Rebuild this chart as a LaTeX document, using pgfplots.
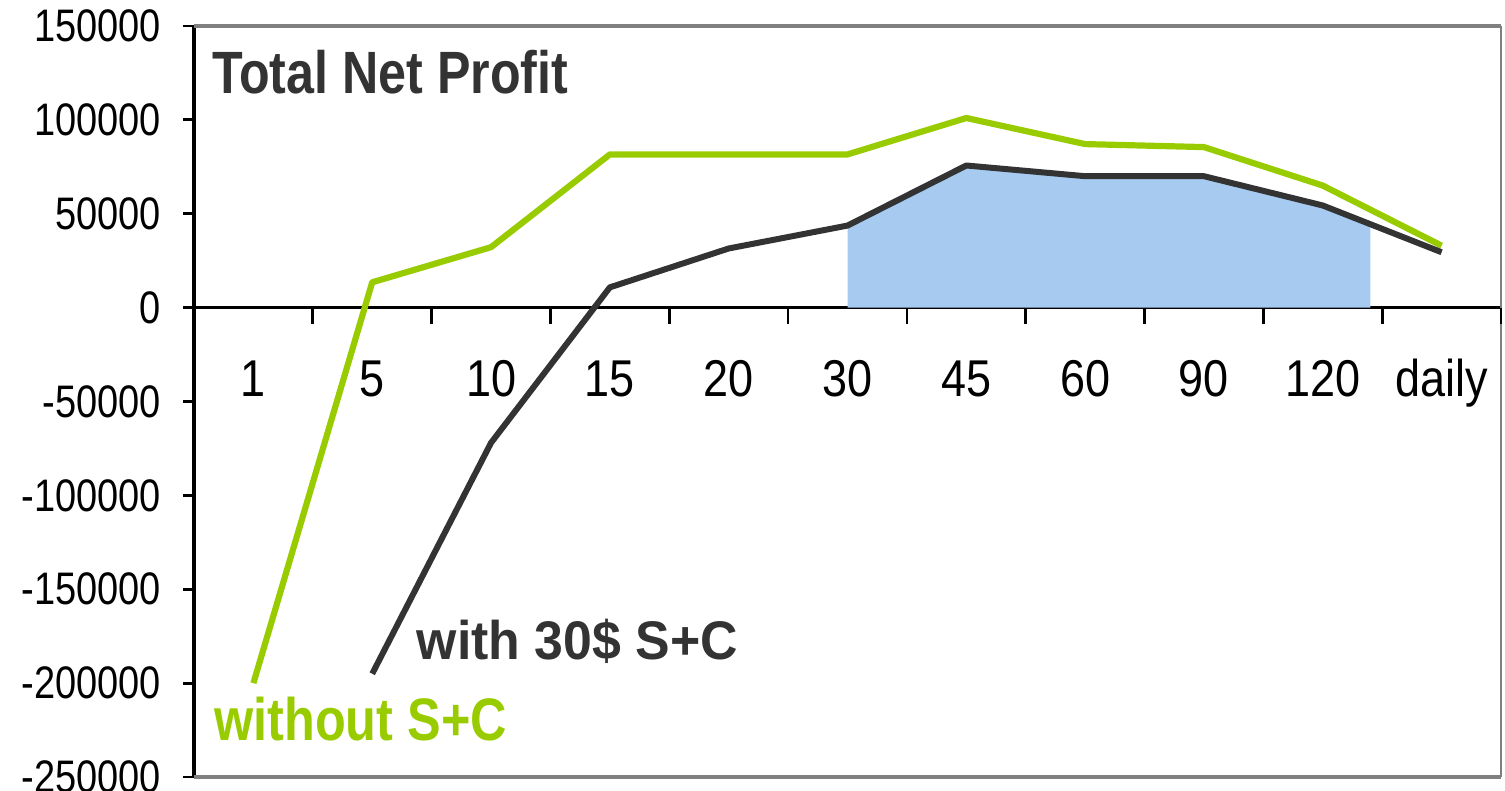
\documentclass[border=0pt]{standalone}
\usepackage{pgfplots}
\pgfplotsset{compat=1.18}
\usepackage{fontspec}
\setmainfont{Liberation Sans}
\usepackage{graphicx}
\definecolor{limeg}{RGB}{153,204,0}
\definecolor{darkl}{RGB}{51,51,51}
\definecolor{skyb}{RGB}{166,202,240}
\definecolor{frameg}{RGB}{128,128,128}
\newcommand{\yl}[1]{\scalebox{1}[1.2]{#1}}
\newcommand{\xl}[1]{\scalebox{1}[1.15]{#1}}
\begin{document}
\begin{tikzpicture}
\path[use as bounding box] (0,0) rectangle (752.5pt,395.5pt);
\begin{axis}[
  at={(97pt,7pt)}, anchor=south west,
  scale only axis, width=653.5pt, height=375.5pt,
  xmin=-0.5, xmax=10.5, ymin=-250000, ymax=150000,
  clip=false,
  scaled y ticks=false,
  axis y line*=left, axis x line*=middle,
  y axis line style={black, line width=1.8pt},
  x axis line style={black, line width=1.8pt},
  ytick={-250000,-200000,...,150000},
  yticklabels={\yl{-250000},\yl{-200000},\yl{-150000},\yl{-100000},\yl{-50000},\yl{0},\yl{50000},\yl{100000},\yl{150000}},
  xtick={0,1,...,10},
  xticklabels={\xl{1},\xl{5},\xl{10},\xl{15},\xl{20},\xl{30},\xl{45},\xl{60},\xl{90},\xl{120},\xl{daily}},
  xtick style={draw=none},
  ytick style={black, line width=1.4pt},
  ytick align=outside,
  major tick length=5.5pt,
  yticklabel style={font=\fontsize{19}{19}\selectfont, xshift=-7.5pt},
  xticklabel style={font=\fontsize{22.5}{22.5}\selectfont, anchor=base, yshift=-44.5pt},
]
\addplot[draw=none, fill=skyb] coordinates {(5,0) (5,43700) (6,75700) (7,70000) (8,70000) (9,54400) (9.4,44500) (9.4,0)} -- cycle;
\draw[frameg, line width=2pt] (rel axis cs:0,1) -- (rel axis cs:1,1);
\draw[frameg, line width=0.7pt] (rel axis cs:1,1) -- (rel axis cs:1,0);
\draw[frameg, line width=1.6pt] (rel axis cs:0,0) -- (rel axis cs:1,0);
\pgfplotsinvokeforeach{0.5,1.5,2.5,3.5,4.5,5.5,6.5,7.5,8.5,9.5,10.5}{
  \draw[black, line width=1.4pt] (axis cs:#1,0) -- ++(0pt,-8pt);
}
\addplot[limeg, line width=3.1pt, line join=round, mark=none] coordinates {
(0,-200000) (1,13500) (2,32200) (3,81600) (4,81600) (5,81600) (6,101000) (7,87100) (8,85500) (9,65000) (10,33000)};
\addplot[darkl, line width=3pt, line join=round, mark=none] coordinates {
(1,-195000) (2,-72000) (3,10800) (4,31500) (5,43700) (6,75700) (7,70000) (8,70000) (9,54400) (10,29500)};
\node[anchor=base west, text=darkl, inner sep=0pt] at (axis cs:-0.35,114100) {\scalebox{1}[1.19]{\fontsize{25.1}{25}\selectfont\bfseries Total Net Profit}};
\node[anchor=base west, text=darkl, inner sep=0pt] at (axis cs:1.373,-187200) {\scalebox{1}[1.05]{\fontsize{25.9}{26}\selectfont\bfseries with 30\$ S+C}};
\node[anchor=base west, text=limeg, inner sep=0pt] at (axis cs:-0.332,-230400) {\scalebox{1}[1.19]{\fontsize{25.2}{25}\selectfont\bfseries without S+C}};
\end{axis}
\end{tikzpicture}
\end{document}
